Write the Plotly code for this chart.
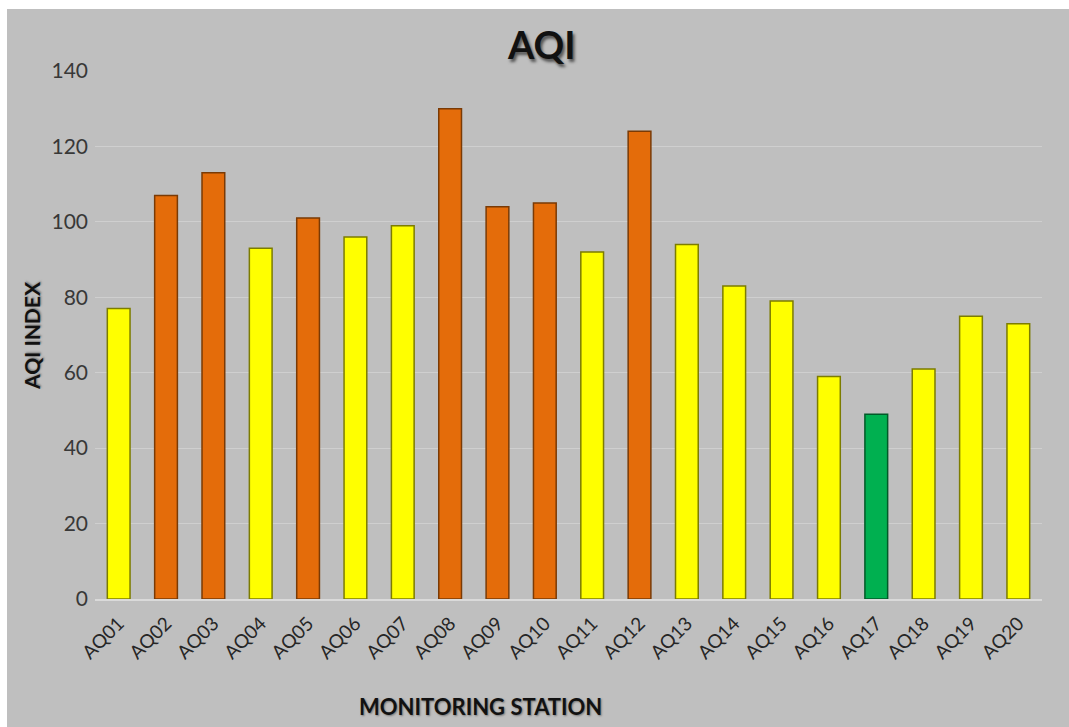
import plotly.graph_objects as go

stations = ["AQ01", "AQ02", "AQ03", "AQ04", "AQ05", "AQ06", "AQ07", "AQ08", "AQ09", "AQ10",
            "AQ11", "AQ12", "AQ13", "AQ14", "AQ15", "AQ16", "AQ17", "AQ18", "AQ19", "AQ20"]
aqi_values = [77, 107, 113, 93, 101, 96, 99, 130, 104, 105,
              92, 124, 94, 83, 79, 59, 49, 61, 75, 73]
y_ticks = [0, 20, 40, 60, 80, 100, 120, 140]

def fill_for(v):
    if v > 100:
        return "#E46C0A"
    if v > 50:
        return "#FFFF00"
    return "#00B050"

def edge_for(v):
    if v > 100:
        return "#7A3A05"
    if v > 50:
        return "#7C7C00"
    return "#005A28"

W, H = 1069, 727
L, R, T, B = 95, 27, 71, 128
pw, ph = W - L - R, H - T - B

def px_x(p):
    return (p - L) / pw

def px_y(p):
    return (H - B - p) / ph

fig = go.Figure(go.Bar(
    x=stations, y=aqi_values,
    marker=dict(color=[fill_for(v) for v in aqi_values],
                line=dict(color=[edge_for(v) for v in aqi_values], width=1.5)),
    width=0.48,
))

font_family = "Lato, 'Open Sans', sans-serif"

fig.update_layout(
    width=W, height=H,
    margin=dict(l=L, r=R, t=T, b=B),
    paper_bgcolor="white",
    plot_bgcolor="rgba(0,0,0,0)",
    showlegend=False,
    font=dict(family=font_family, color="#262626"),
    shapes=[dict(type="rect", xref="paper", yref="paper",
                 x0=px_x(7), x1=px_x(W + 5), y0=px_y(H + 5), y1=px_y(9),
                 fillcolor="#BFBFBF", line=dict(width=0), layer="below")],
    annotations=[
        dict(text="<b>AQI</b>", xref="paper", yref="paper", x=px_x(541), y=px_y(44),
             xanchor="center", yanchor="middle", showarrow=False,
             font=dict(size=38, color="#111111", family=font_family,
                       shadow="2px 3px 3px #555555")),
        dict(text="<b>MONITORING STATION</b>", xref="paper", yref="paper",
             x=px_x(480), y=px_y(706), xanchor="center", yanchor="middle",
             showarrow=False, font=dict(size=22, color="#111111", family=font_family,
                                        shadow="1px 1px 2px #777777")),
        dict(text="<b>AQI INDEX</b>", xref="paper", yref="paper",
             x=px_x(31), y=px_y(336), xanchor="center", yanchor="middle",
             textangle=-90, showarrow=False,
             font=dict(size=21, color="#111111", family=font_family,
                       shadow="1px 1px 2px #777777")),
    ],
)

fig.update_xaxes(
    tickangle=-45, tickfont=dict(size=19, color="#262626"),
    showline=True, linecolor="#DADADA", linewidth=2,
    showgrid=False, ticks="", ticklabelstandoff=4,
)
fig.update_yaxes(
    range=[0, 140], tickvals=y_ticks, tickfont=dict(size=21, color="#383838"),
    showgrid=True, gridcolor="#CFCFCF", gridwidth=1,
    zeroline=False, ticks="", ticklabelstandoff=6,
)

fig.write_html(
    "out.html",
    config={"displayModeBar": False},
    post_script="document.body.style.margin='0';document.body.style.overflow='hidden';",
)
